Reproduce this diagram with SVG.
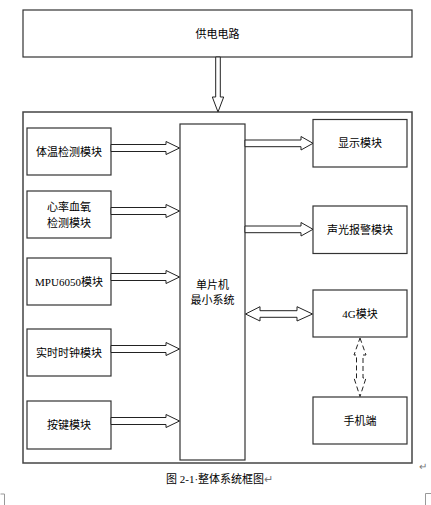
<svg xmlns="http://www.w3.org/2000/svg" width="431" height="505" viewBox="0 0 431 505">
<style>
.box{fill:#fff;stroke:#333;stroke-width:1.2}
.outer{fill:none;stroke:#444;stroke-width:1.5}
.t{font-family:"Liberation Serif","Noto Sans CJK SC",sans-serif;font-size:11px;fill:#000;text-anchor:middle;dominant-baseline:central}
.arr{fill:#fff;stroke:#222;stroke-width:1}
.dash{fill:none;stroke:#222;stroke-width:1;stroke-dasharray:5,3}
.mark{fill:none;stroke:#999;stroke-width:1}
</style>
<rect width="431" height="505" fill="#fff"/>
<rect class="outer" x="23" y="112" width="389" height="351"/>
<g id="power"><rect class="box" x="23" y="10" width="389" height="47"/><text class="t" x="217.5" y="33.5">供电电路</text></g>
<g id="mcu"><rect class="box" x="180" y="124" width="65" height="336"/><text class="t" x="212.5" y="285">单片机</text><text class="t" x="212.5" y="300">最小系统</text></g>
<g id="temp"><rect class="box" x="27" y="128" width="84" height="47"/><text class="t" x="69" y="151.5">体温检测模块</text></g>
<g id="heart"><rect class="box" x="27" y="191" width="84" height="47"/><text class="t" x="69" y="207">心率血氧</text><text class="t" x="69" y="223">检测模块</text></g>
<g id="mpu"><rect class="box" x="27" y="258" width="84" height="47"/><text class="t" x="69" y="281.5">MPU6050模块</text></g>
<g id="rtc"><rect class="box" x="27" y="329" width="84" height="47"/><text class="t" x="69" y="352.5">实时时钟模块</text></g>
<g id="key"><rect class="box" x="27" y="401" width="84" height="48"/><text class="t" x="69" y="425">按键模块</text></g>
<g id="display"><rect class="box" x="313" y="119.5" width="94" height="47.5"/><text class="t" x="360" y="143">显示模块</text></g>
<g id="alarm"><rect class="box" x="313" y="206" width="94" height="47.5"/><text class="t" x="360" y="229.5">声光报警模块</text></g>
<g id="g4"><rect class="box" x="313" y="290" width="94" height="47"/><text class="t" x="360" y="313.5">4G模块</text></g>
<g id="phone"><rect class="box" x="313" y="397" width="94" height="47"/><text class="t" x="360" y="420.5">手机端</text></g>
<g id="connectors">
<polygon class="arr" points="215.7,57 220.3,57 220.3,97 223.7,97 218,112 212.3,97 215.7,97"/>
<polygon class="arr" points="111,144.5 166,144.5 166,141.5 179.5,148 166,154.5 166,151.5 111,151.5"/>
<polygon class="arr" points="111,207.5 166,207.5 166,204.5 179.5,211 166,217.5 166,214.5 111,214.5"/>
<polygon class="arr" points="111,273.5 166,273.5 166,270.5 179.5,277 166,283.5 166,280.5 111,280.5"/>
<polygon class="arr" points="111,345.5 166,345.5 166,342.5 179.5,349 166,355.5 166,352.5 111,352.5"/>
<polygon class="arr" points="111,417.5 166,417.5 166,414.5 179.5,421 166,427.5 166,424.5 111,424.5"/>
<polygon class="arr" points="245,140 301,140 301,136.5 313,143.3 301,150 301,146.7 245,146.7"/>
<polygon class="arr" points="245,226 301,226 301,222.5 313,229.3 301,236 301,232.7 245,232.7"/>
<polygon class="arr" points="245.5,314 260,306.7 260,310.7 297,310.7 297,306.7 312.5,314 297,321 297,317.3 260,317.3 260,321"/>
<polygon class="dash" points="360,338 366,355 363,355 363,378 366,378 360,396.5 354,378 356.5,378 356.5,355 354,355"/>
</g>
<text x="166" y="483" style="font-family:'Liberation Serif','Noto Sans CJK SC',serif;font-size:11px;fill:#000">图 2-1·整体系统框图<tspan fill="#777">↵</tspan></text>
<text x="419" y="470" style="font-family:'Liberation Serif',serif;font-size:10px;fill:#777">↵</text>
<polyline class="mark" points="0.5,494 4.5,494 4.5,505"/>
<polyline class="mark" points="431,493.5 425.5,493.5 425.5,505"/>
</svg>
